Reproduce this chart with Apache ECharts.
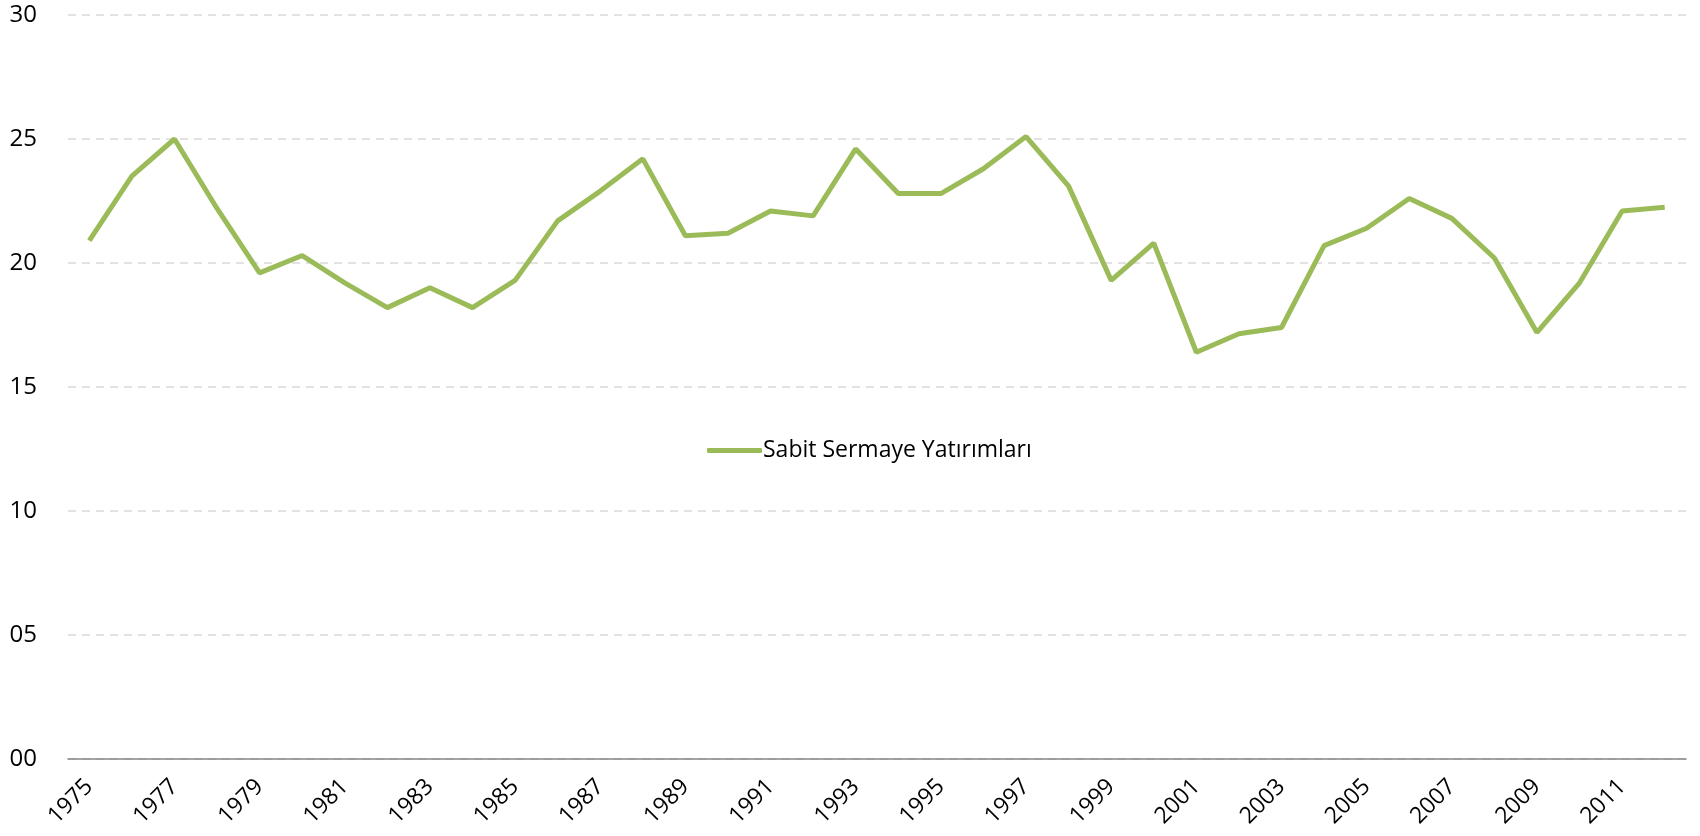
<!DOCTYPE html>
<html>
<head>
<meta charset="utf-8">
<script src="https://cdn.jsdelivr.net/npm/echarts@6/dist/echarts.min.js"></script>
<style>
	html, body { margin: 0; padding: 0; background: #fff; }
	#chart { width: 1700px; height: 836px; }
</style>
</head>
<body>
<div id="chart"></div>
<script>
	// yıllar
	var years = [];
	for (var y = 1975; y <= 2012; y++) years.push(String(y));

	// Sabit Sermaye Yatırımları
	var seriesName = 'Sabit Sermaye Yatırımları';
	var values = [
		20.9, 23.5, 25.0, 22.2, 19.6, 20.3, 19.2, 18.2, 19.0, 18.2,
		19.3, 21.7, 22.9, 24.2, 21.1, 21.2, 22.1, 21.9, 24.6, 22.8,
		22.8, 23.8, 25.1, 23.1, 19.3, 20.8, 16.4, 17.15, 17.4, 20.7,
		21.4, 22.6, 21.8, 20.2, 17.2, 19.2, 22.1, 22.25
	];

	// eksen
	var yMin = 0, yMax = 30, yStep = 5;

	var chart = echarts.init(document.getElementById('chart'));

	chart.setOption({
		animation: false,
		textStyle: { fontFamily: 'Open Sans' },
		grid: {
			left: 68,
			right: 14,
			top: 15,
			bottom: 77
		},
		legend: {
			left: 702,
			top: 434,
			icon: 'roundRect',
			itemWidth: 55,
			itemHeight: 5,
			itemGap: 10,
			textStyle: {
				color: '#000',
				fontSize: 23,
				padding: [0, 0, 0, -4]
			},
			data: [seriesName]
		},
		xAxis: {
			type: 'category',
			data: years,
			boundaryGap: true,
			axisLine: { lineStyle: { color: '#868686', width: 1.5 } },
			axisTick: { length: 7, lineStyle: { color: '#868686', width: 1.5 } },
			axisLabel: {
				interval: 1,
				rotate: 45,
				color: '#000',
				fontSize: 23,
				margin: 24
			}
		},
		yAxis: {
			type: 'value',
			min: yMin,
			max: yMax,
			interval: yStep,
			axisLine: { show: false },
			axisTick: { show: false },
			axisLabel: {
				color: '#000',
				fontSize: 24,
				margin: 31,
				formatter: function(v) {
					return (v < 10 ? '0' : '') + v; //05, 00
				}
			},
			splitLine: {
				lineStyle: {
					color: '#d9d9d9',
					type: [8, 6],
					width: 1.5
				}
			}
		},
		series: [{
			name: seriesName,
			type: 'line',
			data: values,
			symbol: 'none',
			color: '#9BBB59',
			lineStyle: { width: 5, color: '#9BBB59' }
		}]
	});
</script>
</body>
</html>
